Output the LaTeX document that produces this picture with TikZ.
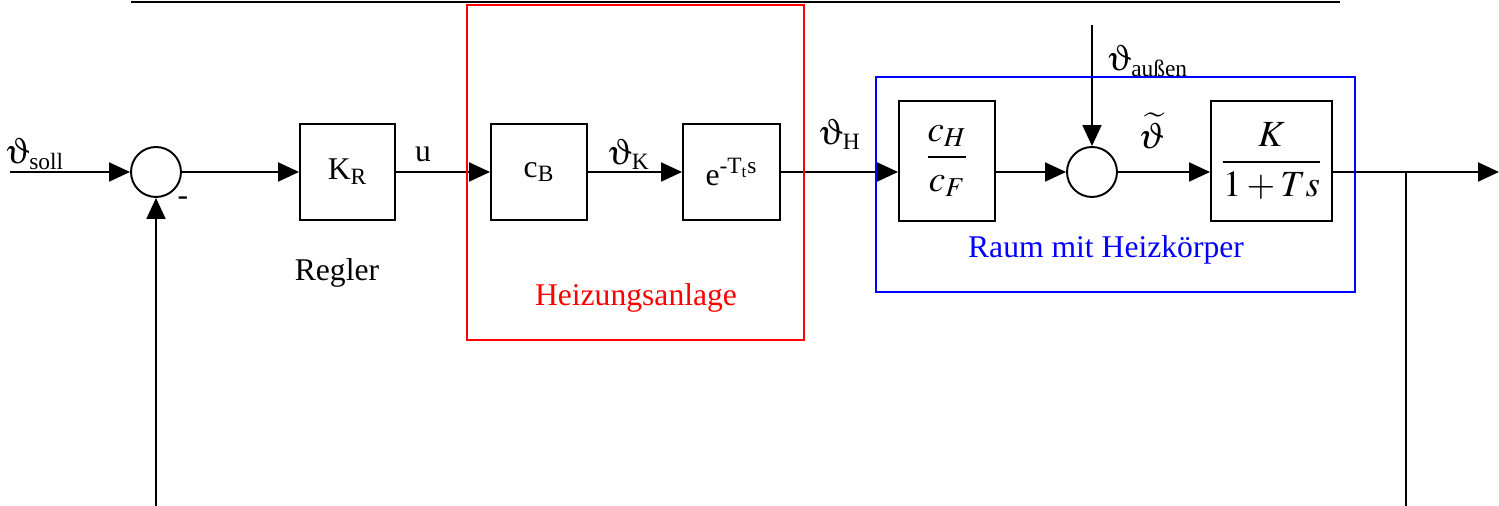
\documentclass[tikz,border=0pt]{standalone}
\usepackage{amsmath}
\usepackage{mathptmx}
\usepackage{fontspec}
\setmainfont{Liberation Serif}
\usepackage{tikz}
\usetikzlibrary{shapes,arrows.meta,positioning,calc}

% Symbol-Schrift fuer das aufrechte Theta
\newcommand{\symth}{{\fontsize{21pt}{25pt}\usefont{U}{psy}{m}{n}J}}

\begin{document}
\begin{tikzpicture}[x=0.02cm,y=0.02cm,
    font=\fontsize{18pt}{22pt}\selectfont,
    line width=1.1pt,
    flow/.style={-{Triangle[length=0.42cm,width=0.38cm]}},
    blockbox/.style={draw,rectangle,inner sep=0pt,line width=1.1pt},
    sumnode/.style={draw,circle,minimum size=1cm,inner sep=0pt,line width=1.1pt},
    bigmath/.style={font=\fontsize{21pt}{25pt}\selectfont}]
\useasboundingbox (0,0) rectangle (1499,506);

% Kopfzeile
\draw[line width=0.8pt] (131,504) -- (1340,504);

\coordinate (in) at (10,334);
\node[sumnode] (sum1) at (156,334) {};
\node[blockbox,minimum width=1.9cm,minimum height=1.92cm] (kr) at (347.5,334) {K\textsubscript{R}};
\node[blockbox,minimum width=1.92cm,minimum height=1.92cm] (cb) at (539,334) {c\textsubscript{B}};
\node[blockbox,minimum width=1.94cm,minimum height=1.92cm] (tot) at (731.5,334) {e\textsuperscript{-T\textsubscript{t}s}};
\node[blockbox,bigmath,minimum width=1.92cm,minimum height=2.4cm] (chf) at (947,345) {$\dfrac{c_H}{c_F}$};
\node[sumnode] (sum2) at (1092,334) {};
\node[blockbox,bigmath,minimum width=2.42cm,minimum height=2.4cm] (pt1) at (1271.5,345) {$\dfrac{K}{1+Ts}$};
\coordinate (out) at (1499,334);
\coordinate (branch) at (1406,334);
\coordinate (fb) at (156,0);
\coordinate (fbend) at (1406,0);
\coordinate (dist) at (1092,481);

% Verbindungen
\draw[flow] (in) -- (sum1.west);
\draw[flow] (sum1.east) -- (kr.west);
\draw[flow] (kr.east) -- (cb.west);
\draw[flow] (cb.east) -- (tot.west);
\draw[flow] (tot.east) -- (tot.east -| chf.west);
\draw[flow] (chf.east |- sum2) -- (sum2.west);
\draw[flow] (sum2.east) -- (sum2 -| pt1.west);
\draw[flow] (pt1.east |- sum2) -- (out);
\draw (branch) -- (fbend);
\draw[flow] (fb) -- (sum1.south);
\draw[flow] (dist) -- (sum2.north);

% Rahmen
\draw[red] (467,166) rectangle (804,501);
\draw[blue] (876,214) rectangle (1355,429);

% Beschriftungen
\node (lsoll) at (35,352) {\symth\textsubscript{soll}};
\node (lminus) at (183,305) {-};
\node (lregler) at (337,233) {Regler};
\node (lu) at (423,352) {u};
\node (lk) at (629,352) {\symth\textsubscript{K}};
\node[red] (lheiz) at (636,208) {Heizungsanlage};
\node (lh) at (840,372) {\symth\textsubscript{H}};
\node (laussen) at (1148,445) {\symth\textsubscript{außen}};
\node[bigmath] (ltilde) at (1152,375) {$\widetilde{\vartheta}$};
\node[blue] (lraum) at (1106,256) {Raum mit Heizkörper};
\end{tikzpicture}
\end{document}
